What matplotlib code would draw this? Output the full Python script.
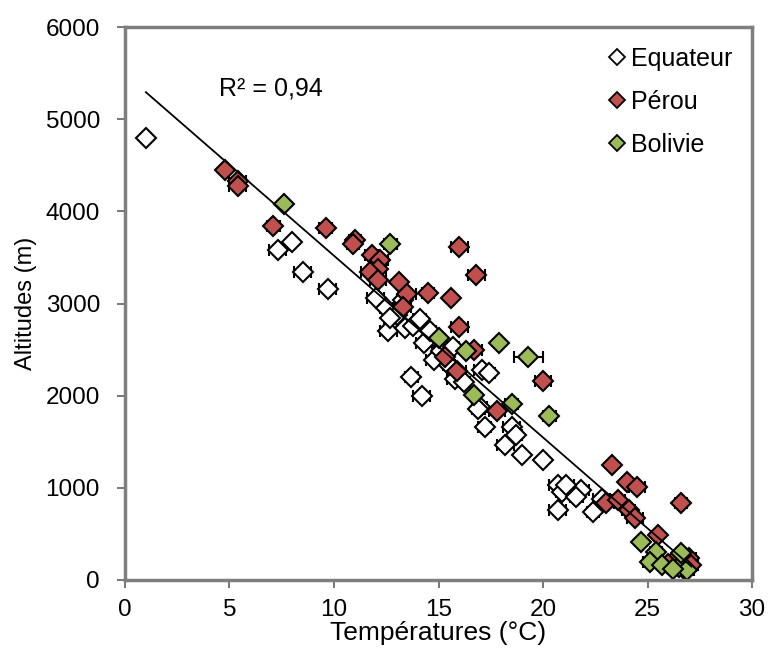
import matplotlib.pyplot as plt
from matplotlib.lines import Line2D
import numpy as np

plt.rcParams['font.family'] = ['Liberation Sans', 'DejaVu Sans']

# Equateur
eq_temp = [1.0, 7.3, 8.0, 8.5, 9.7, 12.0, 12.5, 12.6, 13.4, 13.8, 14.1, 13.0,
           14.3, 14.6, 14.8, 15.1, 15.7, 15.8, 13.7, 14.2, 17.0, 17.2, 17.1,
           17.4, 16.9, 18.5, 18.7, 18.2, 19.0, 20.0, 20.7, 20.9, 21.8, 21.6,
           20.7, 22.4, 21.1, 22.8, 26.8, 27.0, 26.5, 12.7, 13.3, 15.5, 16.2]
eq_alt = [4800, 3580, 3670, 3340, 3160, 3060, 2950, 2700, 2730, 2760, 2830, 2880,
          2570, 2700, 2390, 2480, 2530, 2180, 2200, 2000, 1880, 1660, 2280,
          2250, 1850, 1660, 1570, 1470, 1360, 1300, 1030, 960, 980, 900,
          760, 740, 1030, 880, 120, 150, 200, 2840, 3040, 2330, 2150]
eq_err = [0, 0.4, 0, 0.4, 0.4, 0.4, 0.3, 0.4, 0.4, 0.3, 0.3, 0.3,
          0.4, 0.3, 0.4, 0.3, 0.3, 0.4, 0.3, 0.4, 0.3, 0.3, 0.4,
          0.3, 0.3, 0.4, 0.3, 0.4, 0, 0, 0.4, 0.3, 0.4, 0.3,
          0.4, 0.3, 0.4, 0.4, 0.3, 0.3, 0, 0.3, 0.3, 0.3, 0.3]

# Pérou
pe_temp = [4.8, 5.4, 5.4, 7.1, 9.6, 11.0, 10.9, 11.8, 12.2, 12.1, 11.7, 12.1,
           13.1, 13.5, 13.3, 14.5, 15.6, 16.0, 16.8, 16.0, 15.3, 15.9, 16.7,
           17.8, 20.0, 23.3, 24.0, 24.5, 23.0, 23.6, 24.1, 24.4, 25.5, 26.6,
           27.0, 27.1, 26.8, 26.3, 26.0]
pe_alt = [4450, 4330, 4270, 3840, 3820, 3690, 3650, 3530, 3470, 3370, 3340, 3260,
          3230, 3100, 2960, 3110, 3060, 3610, 3310, 2740, 2420, 2270, 2500,
          1830, 2160, 1250, 1060, 1010, 840, 870, 760, 670, 490, 840,
          240, 160, 110, 220, 170]
pe_err = [0, 0.4, 0.4, 0.3, 0.3, 0.3, 0.3, 0.3, 0.4, 0.4, 0.4, 0.4,
          0, 0.4, 0.4, 0.3, 0, 0.4, 0.4, 0.4, 0, 0.4, 0.4,
          0.4, 0.4, 0, 0, 0.4, 0.4, 0.3, 0.3, 0.4, 0, 0.3,
          0.3, 0.3, 0.3, 0, 0]

# Bolivie
bo_temp = [7.6, 12.7, 15.0, 16.3, 17.9, 19.3, 16.7, 18.5, 20.3, 24.7, 25.4,
           25.1, 25.7, 26.5, 26.6, 26.9, 26.2]
bo_alt = [4080, 3650, 2630, 2480, 2570, 2420, 2010, 1910, 1780, 410, 300,
          200, 165, 140, 290, 110, 120]
bo_err = [0, 0.3, 0, 0, 0, 0.7, 0, 0.3, 0.3, 0, 0.3,
          0.3, 0, 0.3, 0, 0.3, 0]

series = [
    ('Equateur', eq_temp, eq_alt, eq_err, 'white'),
    ('Pérou', pe_temp, pe_alt, pe_err, '#C0504D'),
    ('Bolivie', bo_temp, bo_alt, bo_err, '#9BBB59'),
]

fig = plt.figure(figsize=(7.69, 6.57), dpi=100)
ax = fig.add_axes([0.1625, 0.1172, 0.8155, 0.8417])

handles = []
for name, t, a, e, col in series:
    ax.errorbar(t, a, xerr=e, fmt='D', ms=10, mfc=col, mec='black', mew=1.5,
                ecolor='black', elinewidth=1.5, capsize=4, capthick=1.5)
    handles.append(Line2D([], [], ls='none', marker='D', ms=8, mfc=col,
                          mec='black', mew=1.3, label=name))

# linear trendline over all points
all_t = np.array(eq_temp + pe_temp + bo_temp)
all_a = np.array(eq_alt + pe_alt + bo_alt)
slope, intercept = np.polyfit(all_t, all_a, 1)
xs = np.array([all_t.min(), all_t.max()])
ax.plot(xs, slope * xs + intercept, color='black', lw=1.3, zorder=5)
ax.text(4.5, 5330, 'R² = 0,94', fontsize=18, va='center')

ax.set_xlim(0, 30)
ax.set_ylim(0, 6000)
ax.set_xticks(range(0, 31, 5))
ax.set_yticks(range(0, 6001, 1000))
ax.tick_params(direction='out', length=6, width=1.2, colors='#606060',
               labelcolor='black', labelsize=17.5)
ax.tick_params(axis='y', pad=12)
ax.tick_params(axis='x', pad=8)
for s in ax.spines.values():
    s.set_color('#7f7f7f')
    s.set_linewidth(2.5)
ax.set_xlabel('Températures (°C)', fontsize=19, labelpad=0)
ax.set_ylabel('Altitudes (m)', fontsize=17, labelpad=6)

ax.legend(handles=handles, loc='upper right', frameon=False, fontsize=18,
          handletextpad=0.15, handlelength=0.8, labelspacing=0.75,
          borderaxespad=0.4)

plt.savefig('out.png', dpi=100)
